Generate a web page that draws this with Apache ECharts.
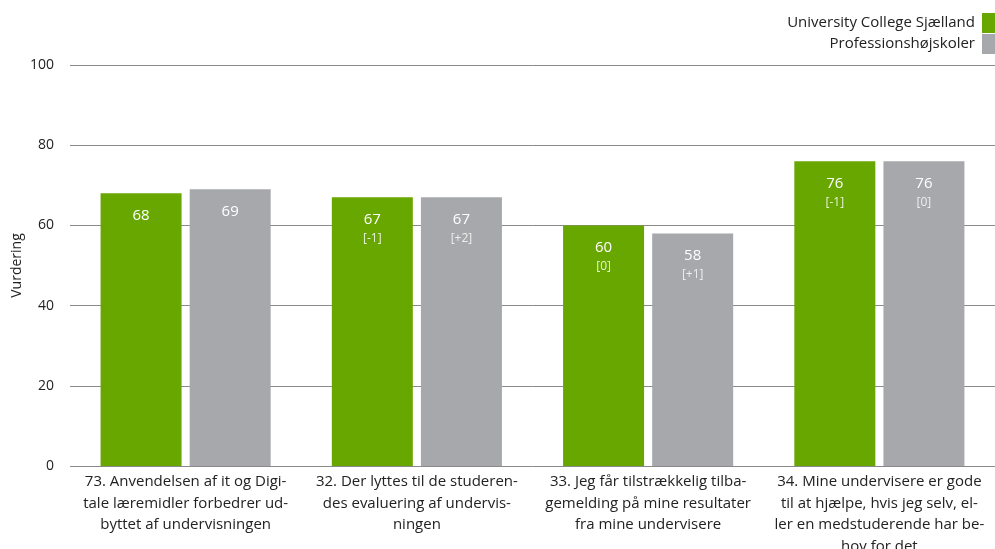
<!DOCTYPE html>
<html><head><meta charset="utf-8">
<script src="https://cdn.jsdelivr.net/npm/echarts@6/dist/echarts.min.js"></script>
<style>html,body{margin:0;padding:0;background:#fff}#c{width:995px;height:549px}</style>
</head><body><div id="c"></div>
<script>
var categories = [
  "73. Anvendelsen af it og Digi-\ntale læremidler forbedrer ud-\nbyttet af undervisningen",
  "32. Der lyttes til de studeren-\ndes evaluering af undervis-\nningen",
  "33. Jeg får tilstrækkelig tilba-\ngemelding på mine resultater\nfra mine undervisere",
  "34. Mine undervisere er gode\ntil at hjælpe, hvis jeg selv, el-\nler en medstuderende har be-\nhov for det"
];
var seriesNames = ["University College Sjælland", "Professionshøjskoler"];
var ucsValues = [68, 67, 60, 76];
var profValues = [69, 67, 58, 76];
var ucsDelta = [null, "-1", "0", "-1"];
var profDelta = [null, "+2", "+1", "0"];
var yTicks = [0, 20, 40, 60, 80, 100];

var FONT = "'Open Sans', 'Noto Sans', sans-serif";
function mkLabel(deltas, col2) {
  return {
    show: true, position: 'insideTop', distance: 12,
    formatter: function (p) {
      var d = deltas[p.dataIndex];
      return '{a|' + p.value + '}' + (d !== null ? '\n{b|[' + d + ']}' : '');
    },
    rich: {
      a: { color: '#fff', fontSize: 15, fontFamily: FONT, lineHeight: 20 },
      b: { color: col2, fontSize: 12, fontFamily: FONT, lineHeight: 18 }
    }
  };
}
var chart = echarts.init(document.getElementById('c'));
chart.setOption({
  animation: false,
  textStyle: { fontFamily: FONT },
  legend: {
    orient: 'vertical', right: 0, top: 13, align: 'right', padding: 0,
    itemWidth: 13, itemHeight: 20, itemGap: 1,
    icon: 'rect',
    textStyle: { fontSize: 15, color: '#222', fontFamily: FONT, padding: [0, 2, 0, 0] },
    data: seriesNames
  },
  grid: { left: 70, right: 0, top: 65, bottom: 83, outerBoundsMode: 'none' },
  xAxis: {
    type: 'category', data: categories,
    axisTick: { show: false },
    axisLine: { show: false },
    axisLabel: { interval: 0, color: '#222', fontSize: 15, lineHeight: 21.5, margin: 5, fontFamily: FONT }
  },
  yAxis: {
    type: 'value', min: 0, max: 100, interval: 20,
    name: 'Vurdering', nameLocation: 'middle', nameGap: 46, nameRotate: 90,
    nameMoveOverlap: false,
    nameTextStyle: { fontSize: 14, color: '#222', fontFamily: FONT },
    axisLabel: { color: '#222', fontSize: 14, margin: 16, fontFamily: FONT,
      formatter: function (v) { return yTicks.indexOf(v) >= 0 ? String(v) : ''; } },
    splitLine: { lineStyle: { color: '#8a8a8a', width: 1 } },
    axisLine: { show: false }, axisTick: { show: false }
  },
  series: [
    { name: seriesNames[0], type: 'bar', data: ucsValues, barWidth: 81, barGap: '10%',
      itemStyle: { color: '#68a700' }, label: mkLabel(ucsDelta, '#e8f3d8') },
    { name: seriesNames[1], type: 'bar', data: profValues, barWidth: 81,
      itemStyle: { color: '#a7a8ab' }, label: mkLabel(profDelta, '#eeeeee') }
  ]
});
</script></body></html>
